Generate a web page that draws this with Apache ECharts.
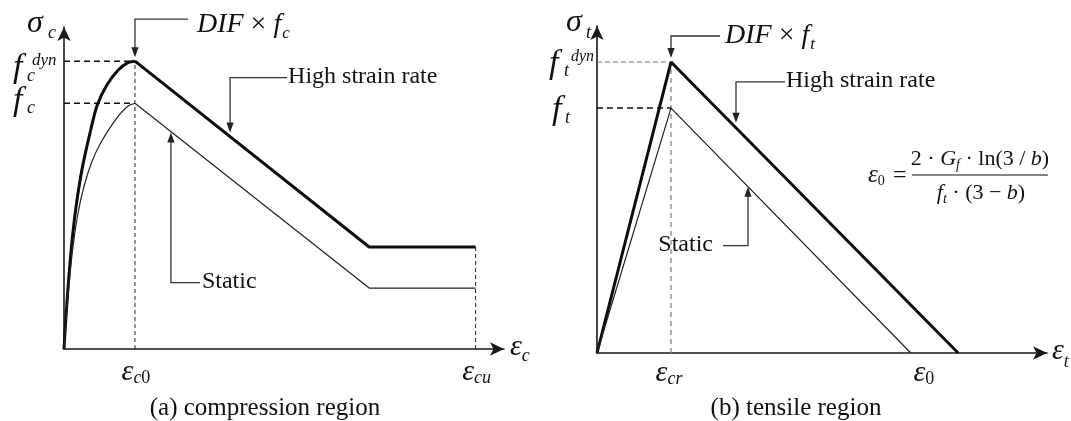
<!DOCTYPE html>
<html><head><meta charset="utf-8">
<script src="https://cdn.jsdelivr.net/npm/echarts@6/dist/echarts.min.js"></script>
<style>html,body{margin:0;padding:0;background:#fff}#c{width:1071px;height:421px}</style>
</head><body><div id="c"></div>
<script>
// ---------------- data (schematic units) ----------------
// (a) compression region
const compDynRise = [[0,0],[0.03,0.14],[0.07,0.30],[0.12,0.46],[0.18,0.60],[0.26,0.74],[0.366,0.878],[0.465,0.99],[0.606,1.075],[0.761,1.134],[0.9,1.165],[1,1.171]];
const compStaRise = [[0,0],[0.03,0.12],[0.07,0.26],[0.12,0.40],[0.19,0.54],[0.28,0.66],[0.39,0.76],[0.52,0.84],[0.69,0.918],[0.8,0.96],[0.9,0.988],[1,1]];
const compDynFall = [[1,1.171],[4.3,0.415],[5.8,0.415]];
const compStaFall = [[1,1],[4.3,0.248],[5.8,0.248]];
const compEpsC0 = 1.0, compEpsCu = 5.8, compFcDyn = 1.171, compFc = 1.0;
const compTickVals = [compEpsC0, compEpsCu];
const compTickSubs = ['c0', 'cu'];
// (b) tensile region
const tensDyn = [[0,0],[1,1.188],[4.88,0]];
const tensSta = [[0,0],[1,1],[4.24,0]];
const tensEpsCr = 1.0, tensEps0 = 4.24, tensFtDyn = 1.188, tensFt = 1.0;
const tensTickVals = [tensEpsCr, tensEps0];
const tensTickSubs = ['cr', '0'];
const captions = ['(a) compression region', '(b) tensile region'];
const annotations = ['DIF', 'High strain rate', 'Static'];

// ---------------- chart ----------------
const SERIF = '"Liberation Serif", "Times New Roman", serif';
const INK = '#111';
const AX_A = {xMax: 6.2, yMax: 1.31};
const AX_B = {xMax: 6.08, yMax: 1.335};
const chart = echarts.init(document.getElementById('c'), null, {renderer: 'canvas'});

function axisCfg(gi, max) {
  return {gridIndex: gi, type: 'value', min: 0, max: max,
    axisLine: {show: true, onZero: false, symbol: ['none', 'arrow'], symbolSize: [10, 14], lineStyle: {color: '#1a1a1a', width: 1.6}},
    axisTick: {show: false}, axisLabel: {show: false}, splitLine: {show: false}};
}
function lineS(gi, data, width, color, extra) {
  return Object.assign({type: 'line', xAxisIndex: gi, yAxisIndex: gi, data: data, symbol: 'none', silent: true,
    lineStyle: {width: width, color: color}, z: 3}, extra || {});
}
function dashS(gi, data, width, color, dash) {
  return lineS(gi, data, width, color, {lineStyle: {width: width, color: color, type: dash}, z: 2});
}

const option = {
  backgroundColor: '#fff',
  animation: false,
  grid: [
    {left: 64, top: 27, width: 440, height: 322, outerBoundsMode: 'none'},
    {left: 597, top: 26, width: 450, height: 327, outerBoundsMode: 'none'}
  ],
  xAxis: [axisCfg(0, AX_A.xMax), axisCfg(1, AX_B.xMax)],
  yAxis: [axisCfg(0, AX_A.yMax), axisCfg(1, AX_B.yMax)],
  series: [
    // (a)
    dashS(0, [[compEpsC0, 0], [compEpsC0, compFcDyn]], 1, '#222', [4, 3]),
    dashS(0, [[0, compFcDyn], [compEpsC0, compFcDyn]], 1.5, '#111', [6, 4]),
    dashS(0, [[0, compFc], [compEpsC0, compFc]], 1.5, '#111', [6, 4]),
    dashS(0, [[compEpsCu, 0], [compEpsCu, compDynFall[2][1]]], 1, '#222', [4, 3]),
    lineS(0, compDynRise, 3, '#0d0d0d', {smooth: 0.3}),
    lineS(0, compStaRise, 1.2, '#222', {smooth: 0.3}),
    lineS(0, compDynFall, 3, '#0d0d0d'),
    lineS(0, compStaFall, 1.2, '#222'),
    // (b)
    dashS(1, [[tensEpsCr, 0], [tensEpsCr, tensFtDyn]], 1.3, '#888', [5, 4]),
    dashS(1, [[0, tensFtDyn], [tensEpsCr, tensFtDyn]], 1, '#777', [5, 3]),
    dashS(1, [[0, tensFt], [tensEpsCr, tensFt]], 1.5, '#111', [6, 4]),
    lineS(1, tensDyn, 3, '#0d0d0d'),
    lineS(1, tensSta, 1.2, '#222')
  ]
};
chart.setOption(option);

// ---------------- text & annotations ----------------
const mctx = document.createElement('canvas').getContext('2d');
function fnt(size, ital) { return (ital ? 'italic ' : '') + size + 'px ' + SERIF; }
function tw(f, t) { mctx.font = f; return mctx.measureText(t).width; }
function txt(x, y, t, f, align) {
  return {type: 'text', x: x, y: y, silent: true, z: 100,
    style: {text: t, font: f, fill: INK, align: align || 'left', verticalAlign: 'middle',
            textAlign: align || 'left', textVerticalAlign: 'middle'}};
}
function row(x, y, pieces, align) {
  let w = 0; const pos = [];
  pieces.forEach(p => { w += (p.dx || 0); pos.push(w); w += tw(p.f, p.t); });
  const off = align === 'center' ? -w / 2 : align === 'right' ? -w : 0;
  return pieces.map((p, i) => txt(x + off + pos[i], y + (p.dy || 0), p.t, p.f));
}
function subPieces(s) {
  return s.split('').map(ch => ({t: ch, f: fnt(18, !/[0-9]/.test(ch)), dy: 6}));
}
function px(gi, pt) { const p = chart.convertToPixel({gridIndex: gi}, pt); return {x: p[0], y: p[1]}; }
function yAt(arr, x) {
  for (let i = 0; i < arr.length - 1; i++) {
    const a = arr[i], b = arr[i + 1];
    if (x >= a[0] && x <= b[0]) return a[1] + (b[1] - a[1]) * (x - a[0]) / (b[0] - a[0]);
  }
  return arr[arr.length - 1][1];
}
const STROKE = '#333';
function pline(points) { return {type: 'polyline', silent: true, z: 90, shape: {points: points}, style: {stroke: STROKE, lineWidth: 1.3, fill: null}}; }
function head(x, y, dir) {
  const s = dir === 'down' ? -1 : 1;
  return {type: 'polygon', silent: true, z: 91, shape: {points: [[x, y], [x - 3.6, y + s * 10], [x + 3.6, y + s * 10]]}, style: {fill: '#222'}};
}

const G = [];
// ===== panel (a) =====
{
  const O = px(0, [0, 0]), T = px(0, [0, AX_A.yMax]), XE = px(0, [AX_A.xMax, 0]);
  G.push(txt(O.x - 37, T.y - 3, 'σ', fnt(32, true)));
  G.push(txt(O.x - 16, T.y + 6, 'c', fnt(18, true)));
  const pD = px(0, [0, compFcDyn]), pF = px(0, [0, compFc]);
  G.push(txt(O.x - 51, pD.y + 7, 'f', fnt(34, true)));
  G.push(txt(O.x - 32, pD.y - 1, 'dyn', fnt(17, true)));
  G.push(txt(O.x - 37, pD.y + 15, 'c', fnt(18, true)));
  G.push(txt(O.x - 51, pF.y - 2, 'f', fnt(34, true)));
  G.push(txt(O.x - 37, pF.y + 5, 'c', fnt(18, true)));
  compTickVals.forEach((v, i) => {
    const p = px(0, [v, 0]);
    G.push(...row(p.x + 1, O.y + 23, [{t: 'ε', f: fnt(30, true)}].concat(subPieces(compTickSubs[i])), 'center'));
  });
  G.push(...row(XE.x + 6, O.y - 2, [{t: 'ε', f: fnt(30, true)}, {t: 'c', f: fnt(18, true), dy: 9}]));
  G.push(txt(265, 408, captions[0], fnt(25, false), 'center'));
  // DIF x f_c
  const pk = px(0, [compEpsC0, compFcDyn]);
  G.push(pline([[pk.x + 53, pk.y - 42], [pk.x, pk.y - 42], [pk.x, pk.y - 12]]));
  G.push(head(pk.x, pk.y - 4, 'down'));
  G.push(...row(pk.x + 62, pk.y - 37, [{t: annotations[0], f: fnt(28, true)}, {t: ' × ', f: fnt(28, false)}, {t: 'f', f: fnt(28, true)}, {t: 'c', f: fnt(17, true), dy: 9, dx: 1}]));
  // High strain rate
  const hx = 2.34, h = px(0, [hx, yAt(compDynFall, hx)]); h.y -= 4;
  G.push(pline([[h.x + 57, h.y - 55], [h.x, h.y - 55], [h.x, h.y - 8]]));
  G.push(head(h.x, h.y, 'down'));
  G.push(txt(h.x + 58, h.y - 56, annotations[1], fnt(24, false)));
  // Static
  const sx = 1.507, s = px(0, [sx, yAt(compStaFall, sx)]); s.y += 1;
  G.push(pline([[s.x, s.y + 8], [s.x, s.y + 150], [s.x + 29, s.y + 150]]));
  G.push(head(s.x, s.y, 'up'));
  G.push(txt(s.x + 31, s.y + 149, annotations[2], fnt(24, false)));
}
// ===== panel (b) =====
{
  const O = px(1, [0, 0]), T = px(1, [0, AX_B.yMax]), XE = px(1, [AX_B.xMax, 0]);
  G.push(txt(O.x - 31, T.y - 3, 'σ', fnt(32, true)));
  G.push(txt(O.x - 11, T.y + 7, 't', fnt(18, true)));
  const pD = px(1, [0, tensFtDyn]), pF = px(1, [0, tensFt]);
  G.push(txt(O.x - 48, pD.y + 2, 'f', fnt(34, true)));
  G.push(txt(O.x - 26, pD.y - 5, 'dyn', fnt(16, true)));
  G.push(txt(O.x - 33, pD.y + 9, 't', fnt(18, true)));
  G.push(txt(O.x - 45, pF.y + 2, 'f', fnt(34, true)));
  G.push(txt(O.x - 32, pF.y + 10, 't', fnt(18, true)));
  tensTickVals.forEach((v, i) => {
    const p = px(1, [v, 0]);
    G.push(...row(p.x + (i === 1 ? 13 : -2), O.y + 20, [{t: 'ε', f: fnt(30, true)}].concat(subPieces(tensTickSubs[i])), 'center'));
  });
  G.push(...row(XE.x + 5, O.y - 2, [{t: 'ε', f: fnt(30, true)}, {t: 't', f: fnt(18, true), dy: 11}]));
  G.push(txt(796, 408, captions[1], fnt(25, false), 'center'));
  // DIF x f_t
  const pk = px(1, [tensEpsCr, tensFtDyn]);
  G.push(pline([[pk.x + 49, pk.y - 26], [pk.x, pk.y - 26], [pk.x, pk.y - 12]]));
  G.push(head(pk.x, pk.y - 4, 'down'));
  G.push(...row(pk.x + 54, pk.y - 26, [{t: annotations[0], f: fnt(28, true)}, {t: ' × ', f: fnt(28, false)}, {t: 'f', f: fnt(28, true)}, {t: 't', f: fnt(17, true), dy: 9, dx: 1}]));
  // High strain rate
  const hx = 1.878, h = px(1, [hx, yAt(tensDyn, hx)]); h.y -= 5;
  G.push(pline([[h.x + 49, h.y - 41], [h.x, h.y - 41], [h.x, h.y - 8]]));
  G.push(head(h.x, h.y, 'down'));
  G.push(txt(h.x + 50, h.y - 42, annotations[1], fnt(24, false)));
  // Static
  const sx = 2.04, s = px(1, [sx, yAt(tensSta, sx)]);
  G.push(pline([[s.x, s.y + 8], [s.x, s.y + 59], [s.x - 25, s.y + 59]]));
  G.push(head(s.x, s.y, 'up'));
  G.push(txt(s.x - 35, s.y + 58, annotations[2], fnt(24, false), 'right'));
  // formula  eps0 = 2·Gf·ln(3/b) / (ft·(3−b))
  G.push(...row(868, 175, [{t: 'ε', f: fnt(25, true)}, {t: '0', f: fnt(14, false), dy: 6}]));
  G.push(txt(893, 176, '=', fnt(24, false)));
  G.push({type: 'line', silent: true, z: 90, shape: {x1: 912, y1: 175, x2: 1048, y2: 175}, style: {stroke: '#111', lineWidth: 1.2}});
  G.push(...row(980, 159, [
    {t: '2', f: fnt(22, false)}, {t: ' · ', f: fnt(22, false)}, {t: 'G', f: fnt(22, true)},
    {t: 'f', f: fnt(14, true), dy: 6}, {t: ' · ', f: fnt(22, false)}, {t: 'ln(3 / ', f: fnt(22, false)},
    {t: 'b', f: fnt(22, true)}, {t: ')', f: fnt(22, false)}], 'center'));
  G.push(...row(981, 193, [
    {t: 'f', f: fnt(22, true)}, {t: 't', f: fnt(14, true), dy: 6}, {t: ' · (3 − ', f: fnt(22, false)},
    {t: 'b', f: fnt(22, true)}, {t: ')', f: fnt(22, false)}], 'center'));
}
chart.setOption({graphic: G});
</script></body></html>
